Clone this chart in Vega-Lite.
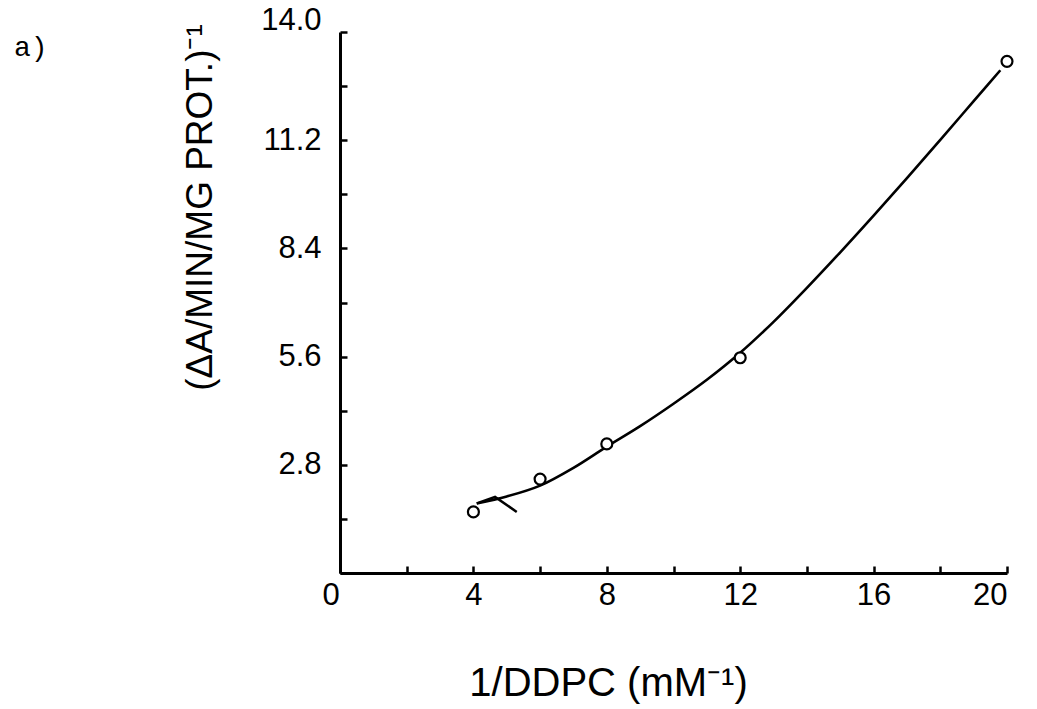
{
  "$schema": "https://vega.github.io/schema/vega-lite/v6.json",
  "width": 667,
  "height": 541,
  "autosize": {"type": "none"},
  "padding": {"left": 340, "top": 32, "right": 30, "bottom": 136},
  "background": "white",
  "title": {
    "text": "a)",
    "anchor": "start",
    "frame": "group",
    "font": "Liberation Mono",
    "fontSize": 28,
    "fontWeight": "normal",
    "color": "black",
    "dx": -326,
    "dy": 62
  },
  "config": {
    "view": {"stroke": null},
    "font": "Liberation Sans",
    "axis": {
      "grid": false,
      "domainColor": "black",
      "domainWidth": 3,
      "tickColor": "black",
      "tickWidth": 2.5,
      "tickSize": -7,
      "labelColor": "black",
      "labelFont": "Liberation Sans",
      "labelFontSize": 31,
      "titleColor": "black",
      "titleFont": "Liberation Sans",
      "titleFontWeight": "normal",
      "labelOverlap": false
    }
  },
  "datasets": {
    "points": [
      {"x": 4, "y": 1.58},
      {"x": 6, "y": 2.43},
      {"x": 8, "y": 3.34},
      {"x": 12, "y": 5.57},
      {"x": 20, "y": 13.24}
    ],
    "curve": [
      {"x": 4.1, "y": 1.8},
      {"x": 5, "y": 1.98},
      {"x": 6, "y": 2.26},
      {"x": 7, "y": 2.72},
      {"x": 8, "y": 3.27},
      {"x": 9, "y": 3.8},
      {"x": 10, "y": 4.38},
      {"x": 11, "y": 5.0},
      {"x": 12, "y": 5.7},
      {"x": 13, "y": 6.5},
      {"x": 14, "y": 7.38},
      {"x": 15, "y": 8.3},
      {"x": 16, "y": 9.25},
      {"x": 17, "y": 10.22},
      {"x": 18, "y": 11.21},
      {"x": 19, "y": 12.21},
      {"x": 19.8, "y": 13.01}
    ],
    "arrow": [
      {"seg": "a", "x": 4.65, "y": 1.97},
      {"seg": "a", "x": 4.1, "y": 1.8},
      {"seg": "a", "x": 5.3, "y": 1.58}
    ]
  },
  "encoding": {
    "x": {
      "field": "x",
      "type": "quantitative",
      "scale": {"domain": [0, 20], "nice": false, "zero": false},
      "axis": {
        "values": [0, 2, 4, 6, 8, 10, 12, 14, 16, 18, 20],
        "labelExpr": "datum.value % 4 === 0 ? datum.label : ''",
        "labelPadding": 14,
        "labelOffset": {"condition": {"test": "datum.value === 0", "value": -18}, "value": 0},
        "title": "1/DDPC (mM⁻¹)",
        "titleFontSize": 40,
        "titleX": 268,
        "titleY": 122,
        "titleBaseline": "alphabetic",
        "titleAlign": "center"
      }
    },
    "y": {
      "field": "y",
      "type": "quantitative",
      "scale": {"domain": [0, 14], "nice": false, "zero": false},
      "axis": {
        "values": [0, 1.4, 2.8, 4.2, 5.6, 7, 8.4, 9.8, 11.2, 12.6, 14],
        "labelExpr": "datum.value > 0 && round(datum.value / 1.4) % 2 === 0 ? format(datum.value, '.1f') : ''",
        "labelPadding": 26,
        "labelOffset": {"condition": {"test": "datum.value === 14", "value": -12}, "value": 0},
        "title": "(ΔA/MIN/MG PROT.)⁻¹",
        "titleFontSize": 37,
        "titleX": -140,
        "titleY": 175,
        "titleAngle": 270,
        "titleBaseline": "middle",
        "titleAlign": "center"
      }
    }
  },
  "layer": [
    {
      "data": {"name": "curve"},
      "mark": {"type": "line", "interpolate": "monotone", "color": "black", "strokeWidth": 2.6}
    },
    {
      "data": {"name": "arrow"},
      "mark": {"type": "line", "color": "black", "strokeWidth": 2.5},
      "encoding": {"detail": {"field": "seg"}, "order": {"value": 0}}
    },
    {
      "data": {"name": "points"},
      "mark": {"type": "point", "shape": "circle", "filled": true, "fill": "white", "stroke": "black", "strokeWidth": 2.2, "size": 120, "opacity": 1}
    }
  ]
}
